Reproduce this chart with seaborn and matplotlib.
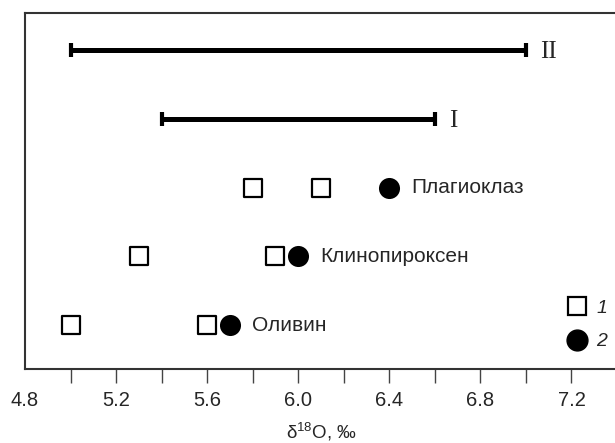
import numpy as np
import pandas as pd
import matplotlib
matplotlib.use('Agg')
import matplotlib.pyplot as plt
from matplotlib.lines import Line2D
import seaborn as sns

# минералы и значения d18O
minerals = ['Оливин', 'Клинопироксен', 'Плагиоклаз']
squares = [[5.0, 5.6], [5.3, 5.9], [5.8, 6.1]]   # 1
circles = [5.7, 6.0, 6.4]                        # 2

# интервалы I и II
range_names = ['I', 'II']
range_start = [5.4, 5.0]
range_end = [6.6, 7.0]

x_ticks = [5.0, 5.2, 5.4, 5.6, 5.8, 6.0, 6.2, 6.4, 6.6, 6.8, 7.0, 7.2]
x_labels = ['', '5.2', '', '5.6', '', '6.0', '', '6.4', '', '6.8', '', '7.2']

sns.set_style('white')
plt.rcParams['font.family'] = ['Liberation Sans', 'DejaVu Sans']

rows = []
for i, m in enumerate(minerals):
    for v in squares[i]:
        rows.append({'x': v, 'y': i + 1, 'kind': '1'})
    rows.append({'x': circles[i], 'y': i + 1, 'kind': '2'})
df = pd.DataFrame(rows)

fig = plt.figure(figsize=(6.15, 4.43), dpi=100)
ax = fig.add_axes([25 / 615, 74 / 443, 592 / 615, 356 / 443])

sns.scatterplot(data=df[df['kind'] == '1'], x='x', y='y', marker='s', s=170,
                facecolor='white', edgecolor='black', linewidth=1.6, ax=ax, zorder=3)
sns.scatterplot(data=df[df['kind'] == '2'], x='x', y='y', marker='o', s=230,
                color='black', edgecolor='black', linewidth=0, ax=ax, zorder=3)

for i, m in enumerate(minerals):
    ax.annotate(m, (circles[i], i + 1), xytext=(16, 0), textcoords='offset points',
                va='center', ha='left', fontsize=15)

for j, name in enumerate(range_names):
    y = len(minerals) + 1 + j
    ax.plot([range_start[j], range_end[j]], [y, y], color='black', lw=3.6,
            marker='|', ms=10, mew=3, solid_capstyle='butt')
    ax.annotate(name, (range_end[j], y), xytext=(10, -1.5), textcoords='offset points',
                va='center', ha='left', fontsize=18, family='Liberation Serif')

ax.set_xlim(4.8, 7.4)
ax.set_ylim(0.36, 5.54)
ax.set_yticks([])
ax.set_xticks(x_ticks)
ax.set_xticklabels(x_labels)
ax.set_xticks([4.8], minor=True)
ax.set_xticklabels(['4.8'], minor=True)
ax.tick_params(axis='x', which='major', direction='out', length=10, width=1,
               color='#444444', bottom=True, labelsize=14.5, pad=6)
ax.tick_params(axis='x', which='minor', length=0, bottom=True, labelsize=14.5, pad=16)
ax.set_xlabel(r'$\mathregular{\delta^{18}}$O, ‰', fontsize=13.5, labelpad=8)
ax.set_ylabel('')

for sp in ax.spines.values():
    sp.set_color('#333333')
    sp.set_linewidth(1.5)

handles = [Line2D([], [], marker='s', ls='', ms=13, mfc='white', mec='black', mew=1.6),
           Line2D([], [], marker='o', ls='', ms=15, mfc='black', mec='black')]
ax.legend(handles, ['1', '2'], loc='lower right', bbox_to_anchor=(1.0, 0.025),
          frameon=False, handlelength=1.0, handletextpad=0.5, labelspacing=0.8,
          borderpad=0, prop={'style': 'italic', 'size': 14})

fig.savefig('out.png', dpi=100)
